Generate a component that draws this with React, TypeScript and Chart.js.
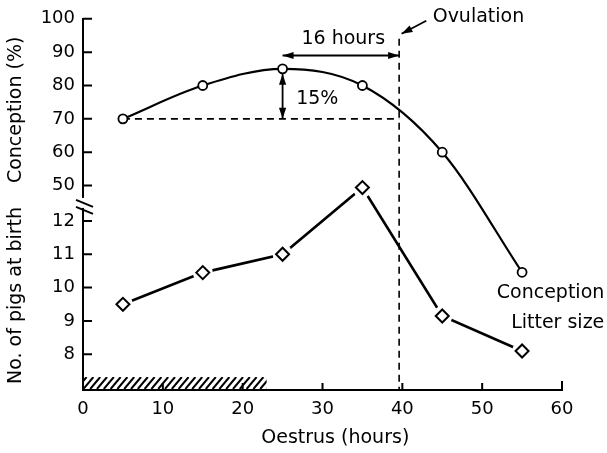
import React, { useEffect, useRef } from "react";
import { Chart, registerables } from "chart.js";

Chart.register(...registerables);

// ---- data ----
const hours = [5, 15, 25, 35, 45, 55];
const conception = [70, 80, 85, 80, 60, 24];
const litterSize = [9.5, 10.45, 11.0, 13.0, 9.15, 8.1];
const hourTicks = [0, 10, 20, 30, 40, 50, 60];
const conceptionTicks = [50, 60, 70, 80, 90, 100];
const litterTicks = [8, 9, 10, 11, 12];

// ---- annotation values (data units) ----
const ovulationHour = 39.6;
const ovulationTop = 94; // conception units
const peakHour = 25;
const peakConception = 85;
const baseConception = 70;
const hoursArrowLevel = 89; // conception units
const oestrusBarEnd = 23; // hours

const FONT = "'DejaVu Sans', 'Liberation Sans', sans-serif";
const FS = 18;
const LFS = 19;

function arrowHead(ctx: CanvasRenderingContext2D, x: number, y: number, angle: number, len = 11, half = 3.6) {
  ctx.save();
  ctx.translate(x, y);
  ctx.rotate(angle);
  ctx.beginPath();
  ctx.moveTo(0, 0);
  ctx.lineTo(-len, -half);
  ctx.lineTo(-len, half);
  ctx.closePath();
  ctx.fill();
  ctx.restore();
}

function doubleArrow(ctx: CanvasRenderingContext2D, x1: number, y1: number, x2: number, y2: number) {
  const a = Math.atan2(y2 - y1, x2 - x1);
  ctx.beginPath();
  ctx.moveTo(x1, y1);
  ctx.lineTo(x2, y2);
  ctx.stroke();
  arrowHead(ctx, x2, y2, a);
  arrowHead(ctx, x1, y1, a + Math.PI);
}

const annotations = {
  id: "annotations",
  beforeDatasetsDraw(chart: any) {
    const ctx: CanvasRenderingContext2D = chart.ctx;
    const sx = chart.scales.x;
    const sy = chart.scales.y;
    const sy2 = chart.scales.y2;
    const area = chart.chartArea;
    ctx.save();
    ctx.strokeStyle = "#000";
    ctx.fillStyle = "#000";

    // inward tick marks
    ctx.lineWidth = 2;
    ctx.beginPath();
    for (const v of conceptionTicks) {
      const p = sy.getPixelForValue(v);
      ctx.moveTo(area.left, p);
      ctx.lineTo(area.left + 9, p);
    }
    for (const v of litterTicks) {
      const p = sy2.getPixelForValue(v);
      ctx.moveTo(area.left, p);
      ctx.lineTo(area.left + 9, p);
    }
    for (const v of hourTicks.slice(1)) {
      const p = sx.getPixelForValue(v);
      ctx.moveTo(p, area.bottom);
      ctx.lineTo(p, area.bottom - (v === 60 ? 9 : 7));
    }
    ctx.stroke();

    // axis break
    const bY = sy.bottom;
    ctx.fillStyle = "#fff";
    ctx.fillRect(area.left - 2, bY - 3, 4, 10);
    ctx.fillStyle = "#000";
    ctx.lineWidth = 2;
    ctx.beginPath();
    ctx.moveTo(area.left - 7, bY - 1);
    ctx.lineTo(area.left + 10, bY + 6);
    ctx.moveTo(area.left - 7, bY + 6);
    ctx.lineTo(area.left + 10, bY + 13);
    ctx.stroke();

    // hatched oestrus bar
    const hx0 = sx.getPixelForValue(0);
    const hx1 = sx.getPixelForValue(oestrusBarEnd);
    const hb = area.bottom - 1;
    const ht = area.bottom - 13;
    ctx.save();
    ctx.beginPath();
    ctx.rect(hx0 + 1, ht, hx1 - hx0 - 1, hb - ht);
    ctx.clip();
    ctx.lineWidth = 2;
    ctx.beginPath();
    for (let x = hx0 - 20; x < hx1 + 20; x += 6.8) {
      ctx.moveTo(x, hb);
      ctx.lineTo(x + 10, ht);
    }
    ctx.stroke();
    ctx.restore();

    // dashed guide lines
    const ox = sx.getPixelForValue(ovulationHour);
    ctx.lineWidth = 1.6;
    ctx.setLineDash([7, 5]);
    ctx.beginPath();
    ctx.moveTo(ox, sy.getPixelForValue(ovulationTop));
    ctx.lineTo(ox, area.bottom);
    const by = sy.getPixelForValue(baseConception);
    ctx.moveTo(sx.getPixelForValue(hours[0]), by);
    ctx.lineTo(ox, by);
    ctx.stroke();
    ctx.setLineDash([]);

    // double arrows
    ctx.lineWidth = 1.8;
    const px = sx.getPixelForValue(peakHour);
    doubleArrow(ctx, px, sy.getPixelForValue(peakConception) + 5, px, by);
    const hy = sy.getPixelForValue(hoursArrowLevel);
    doubleArrow(ctx, px, hy, ox, hy);
    ctx.restore();
  },
  afterDatasetsDraw(chart: any) {
    const ctx: CanvasRenderingContext2D = chart.ctx;
    const sx = chart.scales.x;
    const sy = chart.scales.y;
    const sy2 = chart.scales.y2;
    ctx.save();
    ctx.fillStyle = "#000";
    ctx.strokeStyle = "#000";
    ctx.font = `${LFS}px ${FONT}`;
    ctx.textBaseline = "middle";
    ctx.textAlign = "left";
    ctx.fillText("Ovulation", sx.getPixelForValue(43.8), sy.getPixelForValue(100.6));
    ctx.textAlign = "center";
    ctx.fillText("16 hours", sx.getPixelForValue(32.6), sy.getPixelForValue(94));
    ctx.textAlign = "left";
    ctx.fillText("15%", sx.getPixelForValue(26.7), sy.getPixelForValue(75.8));
    ctx.textAlign = "right";
    ctx.fillText("Conception", sx.getPixelForValue(65.3), sy2.getPixelForValue(9.85));
    ctx.fillText("Litter size", sx.getPixelForValue(65.3), sy2.getPixelForValue(8.93));

    // x-axis title
    ctx.textAlign = "center";
    ctx.fillText("Oestrus (hours)", sx.getPixelForValue(31.6), sx.bottom - 15);

    // ovulation pointer arrow
    const tx = sx.getPixelForValue(39.9);
    const ty = sy.getPixelForValue(95.5);
    const fx = sx.getPixelForValue(43.0);
    const fy = sy.getPixelForValue(99.4);
    ctx.lineWidth = 1.8;
    ctx.beginPath();
    ctx.moveTo(fx, fy);
    ctx.lineTo(tx, ty);
    ctx.stroke();
    arrowHead(ctx, tx, ty, Math.atan2(ty - fy, tx - fx));
    ctx.restore();
  },
};

export default function App() {
  const ref = useRef<HTMLCanvasElement | null>(null);

  useEffect(() => {
    if (!ref.current) return;
    const conceptionPts = hours.map((h, i) => ({ x: h, y: conception[i] }));
    const litterPts = hours.map((h, i) => ({ x: h, y: litterSize[i] }));
    const font = { family: FONT, size: FS };
    const titleFont = { family: FONT, size: LFS };
    const chart = new Chart(ref.current, {
      type: "line",
      data: {
        datasets: [
          {
            label: "Conception",
            data: conceptionPts,
            xAxisID: "x",
            yAxisID: "y",
            clip: false,
            borderColor: "#000",
            borderWidth: 2.2,
            cubicInterpolationMode: "monotone",
            pointStyle: "circle",
            pointRadius: 4.5,
            pointBorderWidth: 1.8,
            pointBackgroundColor: "#fff",
            pointBorderColor: "#000",
            order: 0,
          },
          {
            label: "Litter size line",
            data: litterPts,
            xAxisID: "x",
            yAxisID: "y2",
            clip: false,
            borderColor: "#000",
            borderWidth: 2.6,
            pointRadius: 0,
            order: 3,
          },
          {
            label: "Litter size halo",
            data: litterPts,
            xAxisID: "x",
            yAxisID: "y2",
            clip: false,
            showLine: false,
            pointStyle: "circle",
            pointRadius: 10,
            pointBorderWidth: 0,
            pointBackgroundColor: "#fff",
            pointBorderColor: "#fff",
            order: 2,
          },
          {
            label: "Litter size",
            data: litterPts,
            xAxisID: "x",
            yAxisID: "y2",
            clip: false,
            showLine: false,
            pointStyle: "rectRot",
            pointRadius: 6.5,
            pointBorderWidth: 2,
            pointBackgroundColor: "#fff",
            pointBorderColor: "#000",
            order: 1,
          },
        ],
      },
      options: {
        responsive: false,
        animation: false,
        devicePixelRatio: 1,
        events: [],
        layout: { padding: { top: 17, right: 45, bottom: 0, left: 0 } },
        plugins: { legend: { display: false }, tooltip: { enabled: false } },
        scales: {
          x: {
            type: "linear",
            position: "bottom",
            min: 0,
            max: 60,
            afterBuildTicks: (s: any) => {
              s.ticks = hourTicks.map((v) => ({ value: v }));
            },
            afterFit: (s: any) => {
              s.height = 63;
            },
            grid: { display: false, drawTicks: false },
            border: { display: true, color: "#000", width: 2 },
            ticks: { color: "#000", font, padding: 9, maxRotation: 0, autoSkip: false },
            title: { display: false },
          },
          y: {
            type: "linear",
            position: "left",
            stack: "left",
            stackWeight: 183,
            weight: 1,
            min: 45.4,
            max: 100,
            afterBuildTicks: (s: any) => {
              s.ticks = conceptionTicks.map((v) => ({ value: v }));
            },
            afterFit: (s: any) => {
              s.width = 83;
            },
            grid: { display: false, drawTicks: false },
            border: { display: true, color: "#000", width: 2 },
            ticks: { color: "#000", font, padding: 8, autoSkip: false },
            title: { display: true, text: "Conception (%)", color: "#000", font: titleFont, padding: { top: 5, bottom: 0 } },
          },
          y2: {
            type: "linear",
            position: "left",
            stack: "left",
            stackWeight: 190,
            weight: 0,
            min: 6.93,
            max: 12.6,
            afterBuildTicks: (s: any) => {
              s.ticks = litterTicks.map((v) => ({ value: v }));
            },
            afterFit: (s: any) => {
              s.width = 83;
            },
            grid: { display: false, drawTicks: false },
            border: { display: true, color: "#000", width: 2 },
            ticks: { color: "#000", font, padding: 8, autoSkip: false },
            title: { display: true, text: "No. of pigs at birth", color: "#000", font: titleFont, padding: { top: 5, bottom: 0 } },
          },
        },
      } as any,
      plugins: [annotations],
    });
    return () => chart.destroy();
  }, []);

  return (
    <div style={{ position: "fixed", left: 0, top: 0, width: 607, height: 453, background: "#fff" }}>
      <canvas ref={ref} width={607} height={453} style={{ display: "block" }} />
    </div>
  );
}
